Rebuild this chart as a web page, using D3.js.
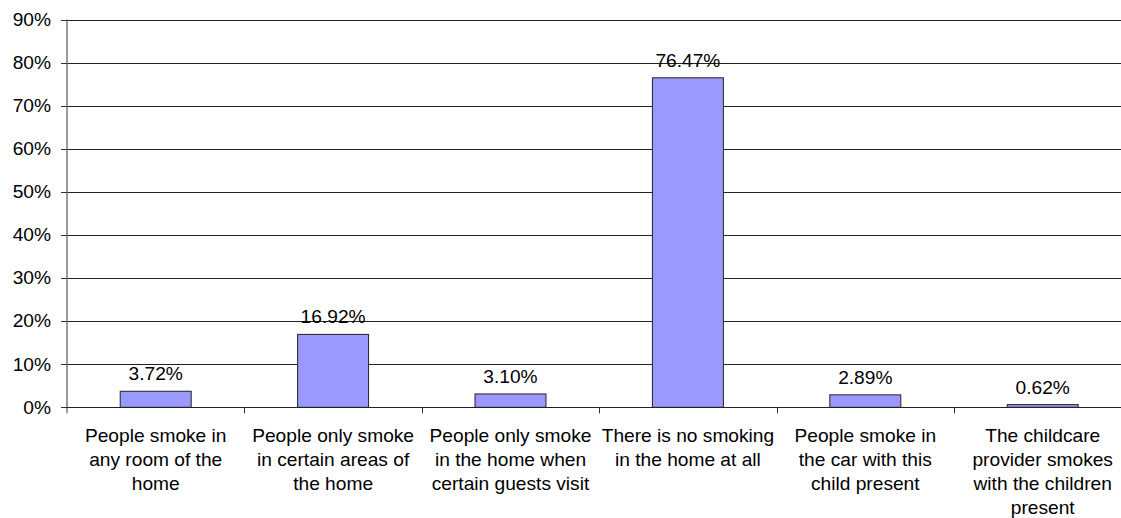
<!DOCTYPE html>
<html>
<head>
<meta charset="utf-8">
<script src="https://cdn.jsdelivr.net/npm/d3@7"></script>
<style>
  html, body { margin: 0; padding: 0; background: #fff; }
  svg { display: block; }
  text { font-family: "Liberation Sans", Arial, sans-serif; fill: #000; }
</style>
</head>
<body>
<svg id="chart" width="1121" height="518"></svg>
<script>
// Smoking situations around the child
const categories = [
  "People smoke in any room of the home",
  "People only smoke in certain areas of the home",
  "People only smoke in the home when certain guests visit",
  "There is no smoking in the home at all",
  "People smoke in the car with this child present",
  "The childcare provider smokes with the children present"
];
const categoryLines = [
  ["People smoke in", "any room of the", "home"],
  ["People only smoke", "in certain areas of", "the home"],
  ["People only smoke", "in the home when", "certain guests visit"],
  ["There is no smoking", "in the home at all"],
  ["People smoke in", "the car with this", "child present"],
  ["The childcare", "provider smokes", "with the children", "present"]
];
const values = [3.72, 16.92, 3.10, 76.47, 2.89, 0.62];
const yTicks = [0, 10, 20, 30, 40, 50, 60, 70, 80, 90];

const svg = d3.select("#chart");
const plotLeft = 67, plotTop = 19.5, plotBottom = 407.3, step = 177.4;
const fontSize = 18.6, stretch = 1.03;

const x = d3.scaleBand()
  .domain(categories)
  .range([plotLeft, plotLeft + step * categories.length])
  .paddingInner(0.6)
  .paddingOuter(0.3);

const y = d3.scaleLinear().domain([0, 90]).range([plotBottom, plotTop]);

// slightly widened text helper
function label(g, tx, ty, str, anchor) {
  return g.append("text")
    .attr("transform", `translate(${tx},${ty}) scale(${stretch},1)`)
    .attr("text-anchor", anchor)
    .style("font-size", fontSize + "px")
    .text(str);
}

// gridlines
svg.append("g").selectAll("line")
  .data(yTicks.filter(d => d > 0))
  .join("line")
  .attr("x1", plotLeft).attr("x2", 1121)
  .attr("y1", d => Math.round(y(d)) + 0.5).attr("y2", d => Math.round(y(d)) + 0.5)
  .attr("stroke", "#222").attr("stroke-width", 1);

// y axis
const yAxis = svg.append("g");
yAxis.append("line")
  .attr("x1", plotLeft).attr("x2", plotLeft)
  .attr("y1", plotTop).attr("y2", plotBottom + 6)
  .attr("stroke", "#777").attr("stroke-width", 1.5);
yAxis.selectAll("line.tick")
  .data(yTicks)
  .join("line").attr("class", "tick")
  .attr("x1", plotLeft - 6).attr("x2", plotLeft)
  .attr("y1", d => Math.round(y(d)) + 0.5).attr("y2", d => Math.round(y(d)) + 0.5)
  .attr("stroke", "#333");
yTicks.forEach(t => label(yAxis, 51, y(t) + 6.3, t + "%", "end"));

// bars
svg.append("g").selectAll("rect")
  .data(values)
  .join("rect")
  .attr("x", (d, i) => x(categories[i]))
  .attr("width", x.bandwidth())
  .attr("y", d => y(d))
  .attr("height", d => y(0) - y(d))
  .attr("fill", "#9999ff")
  .attr("stroke", "#222")
  .attr("stroke-width", 1);

// value labels
const vl = svg.append("g");
values.forEach((v, i) => {
  label(vl, x(categories[i]) + x.bandwidth() / 2, y(v) - 11, v.toFixed(2) + "%", "middle");
});

// x axis line and category ticks
const xAxis = svg.append("g");
xAxis.append("line")
  .attr("x1", plotLeft).attr("x2", 1121)
  .attr("y1", Math.round(plotBottom) + 0.5).attr("y2", Math.round(plotBottom) + 0.5)
  .attr("stroke", "#222");
xAxis.selectAll("line.tick")
  .data(d3.range(1, categories.length))
  .join("line").attr("class", "tick")
  .attr("x1", i => Math.round(plotLeft + i * x.step()) + 0.5)
  .attr("x2", i => Math.round(plotLeft + i * x.step()) + 0.5)
  .attr("y1", plotBottom).attr("y2", plotBottom + 6)
  .attr("stroke", "#333");

// category labels
categoryLines.forEach((lines, i) => {
  const cx = x(categories[i]) + x.bandwidth() / 2;
  lines.forEach((ln, j) => label(xAxis, cx, 442 + j * 24, ln, "middle"));
});
</script>
</body>
</html>
